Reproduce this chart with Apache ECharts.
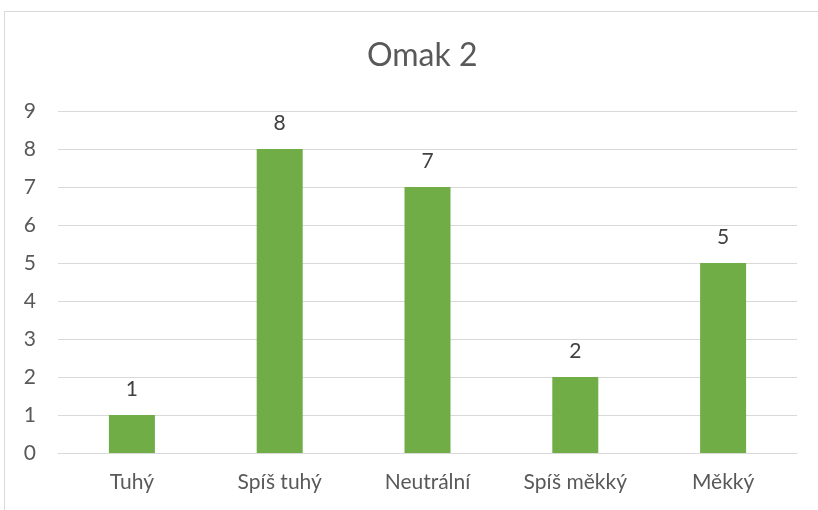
<!DOCTYPE html>
<html>
<head>
<meta charset="utf-8">
<script src="https://cdn.jsdelivr.net/npm/echarts@6/dist/echarts.min.js"></script>
<style>
html, body { margin: 0; padding: 0; background: #fff; }
#chart { width: 818px; height: 510px; }
</style>
</head>
<body>
<div id="chart"></div>
<script>
var categories = ['Tuhý', 'Spíš tuhý', 'Neutrální', 'Spíš měkký', 'Měkký'];
var values = [1, 8, 7, 2, 5];
var yTicks = [0, 9, 1];

var myChart = echarts.init(document.getElementById('chart'));
var option = {
    animation: false,
    textStyle: { fontFamily: 'Lato' },
    title: {
        text: 'Omak 2',
        left: 362,
        top: 35,
        textStyle: { fontFamily: 'Lato', fontSize: 32, fontWeight: 'normal', color: '#595959' }
    },
    graphic: [{
        type: 'rect',
        shape: { x: 4.5, y: 11.5, width: 900, height: 600 },
        style: { fill: 'none', stroke: '#d9d9d9', lineWidth: 1 },
        silent: true
    }],
    grid: { left: 58, right: 21, top: 111, bottom: 57 },
    xAxis: {
        type: 'category',
        data: categories,
        axisLine: { lineStyle: { color: '#d9d9d9', width: 1 } },
        axisTick: { show: false },
        axisLabel: { fontSize: 21, color: '#595959', margin: 19 }
    },
    yAxis: {
        type: 'value',
        min: yTicks[0],
        max: yTicks[1],
        interval: yTicks[2],
        axisLine: { show: false },
        axisTick: { show: false },
        axisLabel: { fontSize: 21, color: '#595959', margin: 22 },
        splitLine: { lineStyle: { color: '#d9d9d9', width: 1 } }
    },
    series: [{
        type: 'bar',
        data: values,
        barWidth: 46,
        itemStyle: { color: '#70ad47' },
        label: { show: true, position: 'top', distance: 15, fontSize: 21, color: '#404040' }
    }]
};
myChart.setOption(option);
</script>
</body>
</html>
